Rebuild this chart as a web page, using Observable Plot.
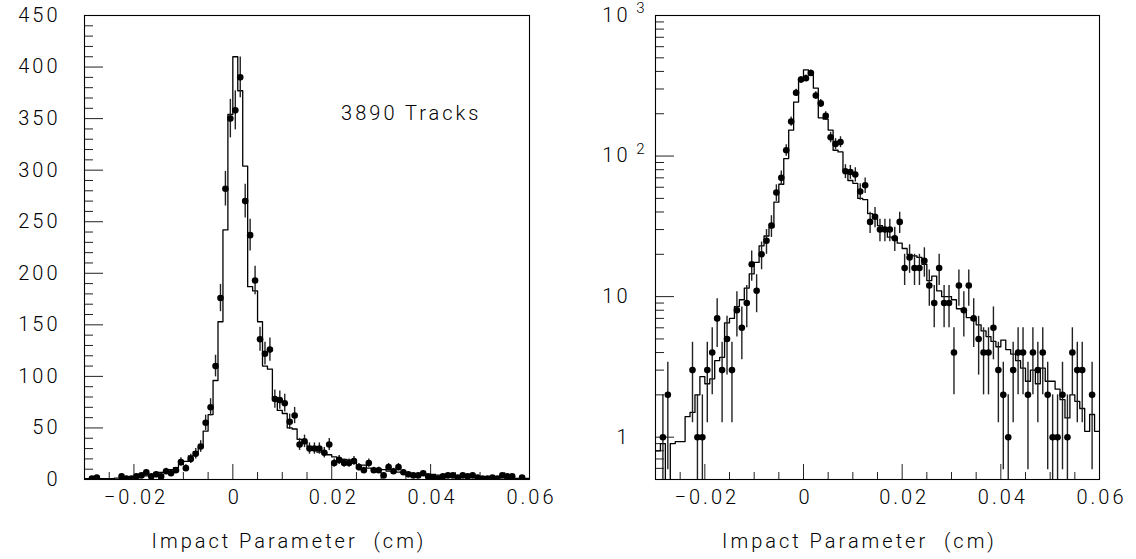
<!DOCTYPE html>
<html><head><meta charset="utf-8">
<script src="https://cdn.jsdelivr.net/npm/d3@7"></script>
<script src="https://cdn.jsdelivr.net/npm/@observablehq/plot@0.6"></script>
<style>
body{margin:0;background:#fff;}
#wrap{position:relative;width:1136px;height:559px;overflow:hidden;}
#left{position:absolute;left:0;top:0;}
#right{position:absolute;left:568px;top:0;}
svg text{font-family:Roboto,"Liberation Sans",sans-serif;font-weight:300;letter-spacing:3px;}
</style></head><body><div id="wrap"><div id="left"></div><div id="right"></div></div>
<script>
// ---- data (bins of 0.001 cm from -0.03 to 0.06) ----
const binStart = -0.03;
const binWidth = 0.001;
const dataCounts = [
  0,1,2,0,0,0,0,3,1,1,
  3,4,7,3,5,3,8,6,9,17,
  11,20,25,32,55,70,110,176,282,350,
  358,390,270,237,193,136,122,126,78,77,
  74,56,62,34,37,30,30,30,26,34,
  16,19,16,16,18,12,9,16,9,9,
  4,12,8,12,7,5,4,4,6,3,
  2,1,3,4,4,2,4,3,4,2,
  1,1,2,1,4,3,3,0,2,0
];
const mcCounts = [
  0.8,0.9,0.3,0.9,0.93,0.93,1.4,1.5,2.0,2.7,
  2.4,2.6,3.5,3.7,6.5,7.0,8.5,9.5,11.5,14.5,
  17.5,23,27,31,47,63,96,153,242,354,
  410,377,304,187,183,153,110,107,79,67,
  64,50,49,39,36,32,30,26.5,26,24,
  22,20,19.5,19,17,13,14,11,10,10,
  9.5,8.2,8,7.1,6.8,6.3,5.7,5.2,4.8,4.4,
  4.9,4.2,3.9,3.5,3.1,2.5,3.0,2.4,3.1,2.5,
  2.5,2.2,1.85,1.37,2.0,1.8,1.6,1.1,1.45,1.1
];
const xDomain = [-0.03, 0.06];
const xTickLabels = [-0.02, 0, 0.02, 0.04, 0.06];
const linDomain = [0, 450];
const linTickLabels = [0, 50, 100, 150, 200, 250, 300, 350, 400, 450];
const logDomain = [0.5, 1000];
const logTickLabels = [1, 10, 100, 1000];
const annotation = "3890 Tracks";
const xTitle = "Impact Parameter  (cm)";

// ---- derived tables ----
const steps = mcCounts.flatMap((v, i) => [
  {x: binStart + i * binWidth, y: v},
  {x: binStart + (i + 1) * binWidth, y: v}
]);
const points = dataCounts.map((n, i) => ({x: binStart + (i + 0.5) * binWidth, n}))
  .filter(d => d.n > 0);

const xMinor = d3.range(-25, 60, 5).map(k => k / 1000).filter(v => Math.abs(Math.round(v * 1000) % 20) !== 0);
const xMajor = xTickLabels.filter(v => v < xDomain[1]);
const linMinor = d3.range(0, 450, 10).filter(v => v % 50 !== 0);
const logMinor = [0.6, 0.7, 0.8, 0.9].concat(...[1, 10, 100].map(p => d3.range(2, 10).map(k => k * p)));

const fmtX = v => v === 0 ? "0" : (v < 0 ? "\u2212" : "") + Math.abs(v).toFixed(2);
const W = 568, H = 559, MT = 15, MB = 80;
const txt = {fill: "black", fontSize: 20, fontWeight: 300};

function panel({log, ml, mr}) {
  const pw = W - ml - mr, ph = H - MT - MB;
  const marks = [
    // ticks
    Plot.ruleY(log ? logMinor : linMinor, {y: d => d, insetRight: pw - 9, stroke: "#222", strokeWidth: 1}),
    Plot.ruleY(log ? logTickLabels : linTickLabels, {y: d => d, insetRight: pw - 19, stroke: "#222", strokeWidth: 1}),
    Plot.ruleX(xMinor, {x: d => d, insetTop: ph - 7, stroke: "#222", strokeWidth: 1}),
    Plot.ruleX(xMajor, {x: d => d, insetTop: ph - 15, stroke: "#222", strokeWidth: 1}),
    // histogram (step)
    Plot.line(steps, {x: "x", y: "y", stroke: "black", strokeWidth: 1.3, clip: true, curve: "linear"}),
    // data error bars and points
    Plot.ruleX(points, {x: "x", y1: d => Math.max(d.n - Math.sqrt(d.n), log ? 0.3 : 0), y2: d => d.n + Math.sqrt(d.n), stroke: "#222", strokeWidth: 1.4, clip: true}),
    Plot.dot(points, {x: "x", y: "n", r: 3.3, fill: "black", stroke: null, clip: true}),
    Plot.frame({stroke: "black", strokeWidth: 1.1}),
    // x tick labels
    Plot.text(xTickLabels, {x: d => d, frameAnchor: "bottom", lineAnchor: "middle", dy: 18, dx: 2, text: fmtX, ...txt}),
    // x title
    Plot.text([xTitle], {frameAnchor: "bottom", lineAnchor: "middle", dy: 62, dx: -18, text: d => d, ...txt})
  ];
  if (log) {
    marks.push(
      Plot.text(logTickLabels, {y: d => d, frameAnchor: "left", lineAnchor: "middle", textAnchor: "end", dx: -25, text: d => d >= 100 ? "10" : String(d), ...txt}),
      Plot.text(logTickLabels.filter(d => d >= 100), {y: d => d, frameAnchor: "left", lineAnchor: "middle", textAnchor: "end", dx: -8, dy: -7, text: d => String(Math.round(Math.log10(d))), ...txt, fontSize: 15})
    );
  } else {
    marks.push(
      Plot.text(linTickLabels, {y: d => d, frameAnchor: "left", lineAnchor: "middle", textAnchor: "end", dx: -24, text: d => String(d), ...txt}),
      Plot.text([annotation], {frameAnchor: "top-right", lineAnchor: "middle", textAnchor: "end", dx: -48, dy: 98, text: d => d, ...txt})
    );
  }
  return Plot.plot({
    width: W, height: H,
    marginLeft: ml, marginRight: mr, marginTop: MT, marginBottom: MB,
    style: {background: "white", overflow: "visible"},
    x: {domain: xDomain, axis: null},
    y: log ? {type: "log", domain: logDomain, axis: null} : {domain: linDomain, axis: null},
    marks
  });
}

document.getElementById("left").appendChild(panel({log: false, ml: 84, mr: 39}));
document.getElementById("right").appendChild(panel({log: true, ml: 87, mr: 37}));
</script>
</body></html>
